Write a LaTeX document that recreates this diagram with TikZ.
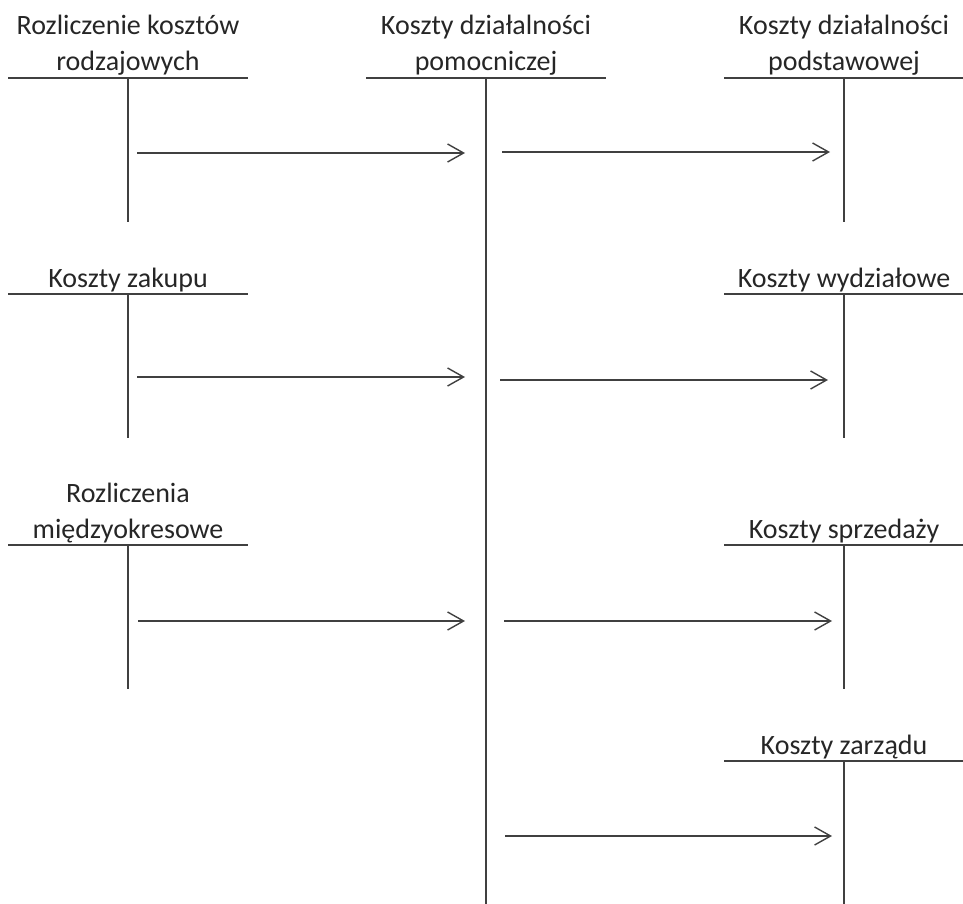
\documentclass[tikz,border=0pt]{standalone}
\usepackage{fontspec}
\setmainfont{Carlito}
\usetikzlibrary{arrows.meta}
\definecolor{linegray}{HTML}{404040}
\definecolor{textgray}{HTML}{262626}
\begin{document}
\begin{tikzpicture}[x=1pt,y=-1pt,
  acct/.style={draw=linegray,line width=1.4pt},
  title/.style={anchor=base,inner sep=0pt,align=center,text=textgray,
    font=\fontsize{28}{36}\selectfont},
  flow/.style={draw=linegray,line width=1.4pt,-{Straight Barb[length=16pt,width=18pt,line width=1.4pt]}}]
\useasboundingbox (0,0) rectangle (963,904);
% titles (base anchor = baseline of the last line)
\node[title] (t1) at (128,71) {Rozliczenie kosztów\\rodzajowych};
\node[title] (tm) at (486,71) {Koszty działalności\\pomocniczej};
\node[title] (r1) at (844,71) {Koszty działalności\\podstawowej};
\node[title] (t2) at (128,287) {Koszty zakupu};
\node[title] (r2) at (844,287) {Koszty wydziałowe};
\node[title] (t3) at (128,538) {Rozliczenia\\międzyokresowe};
\node[title] (r3) at (844,538) {Koszty sprzedaży};
\node[title] (r4) at (844,754) {Koszty zarządu};
% T-accounts
\draw[acct] (8,78) -- (248,78) (128,78) -- (128,222);
\draw[acct] (366,78) -- (606,78) (486,78) -- (486,904);
\draw[acct] (724,78) -- (963,78) (844,78) -- (844,222);
\draw[acct] (8,294) -- (248,294) (128,294) -- (128,438);
\draw[acct] (724,294) -- (963,294) (844,294) -- (844,438);
\draw[acct] (8,545) -- (248,545) (128,545) -- (128,689);
\draw[acct] (724,545) -- (963,545) (844,545) -- (844,689);
\draw[acct] (724,761) -- (963,761) (844,761) -- (844,904);
% arrow end points
\coordinate (a1s) at (137,153); \coordinate (a1e) at (465,153);
\coordinate (b1s) at (502,152); \coordinate (b1e) at (830,152);
\coordinate (a2s) at (137,377); \coordinate (a2e) at (465,377);
\coordinate (b2s) at (500,380); \coordinate (b2e) at (828,380);
\coordinate (a3s) at (138,621); \coordinate (a3e) at (465,621);
\coordinate (b3s) at (504,621); \coordinate (b3e) at (832,621);
\coordinate (b4s) at (505,836); \coordinate (b4e) at (832,836);
\draw[flow] (a1s) -- (a1e);
\draw[flow] (b1s) -- (b1e);
\draw[flow] (a2s) -- (a2e);
\draw[flow] (b2s) -- (b2e);
\draw[flow] (a3s) -- (a3e);
\draw[flow] (b3s) -- (b3e);
\draw[flow] (b4s) -- (b4e);
\end{tikzpicture}
\end{document}
